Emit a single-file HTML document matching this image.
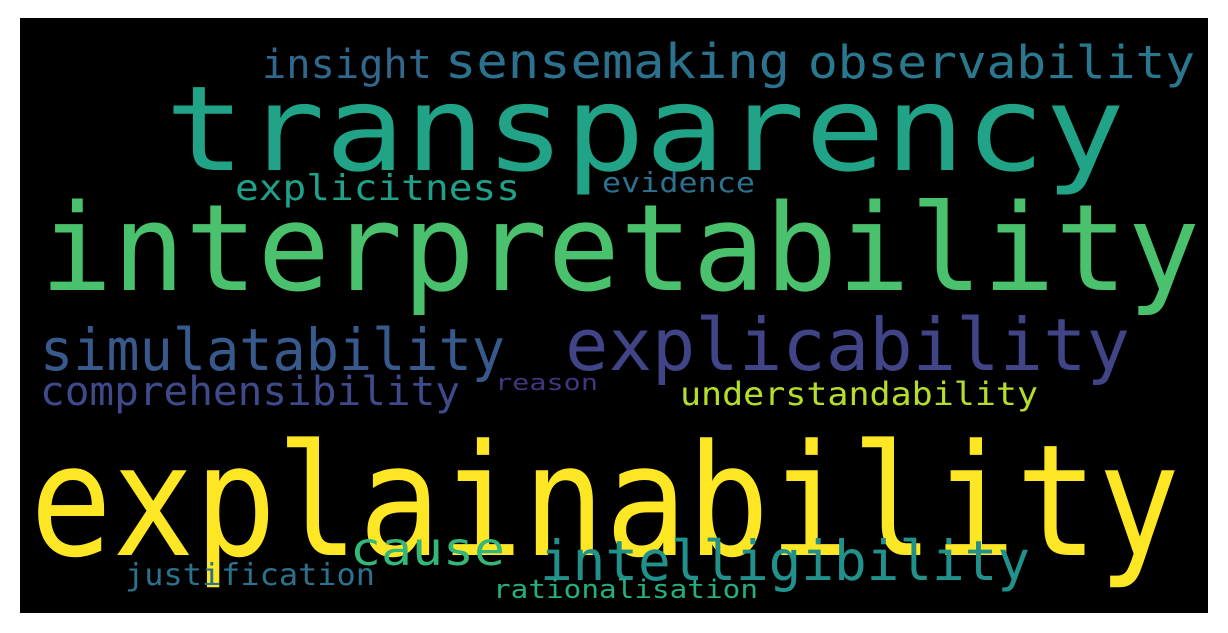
<!DOCTYPE html>
<html><head><meta charset="utf-8"><style>
html,body{margin:0;padding:0;background:#fff;width:1228px;height:633px;overflow:hidden}
svg{position:absolute;left:0;top:0}
text{font-family:"DejaVu Sans Mono","Liberation Mono",monospace}
</style></head><body>
<svg width="1228" height="633">
<rect x="20" y="18" width="1188" height="595" fill="#000"/>
<g id="words"></g>
</svg>
<script>
const words=["transparency","interpretability","explainability","explicability","simulatability","sensemaking","observability","insight","explicitness","evidence","comprehensibility","reason","understandability","cause","intelligibility","justification","rationalisation"];
const sizes=[118,120,155,72,58,48,45,40,36,28,40,22,32,46,55,30,26];
const colors=["#20a386","#4ac16d","#fde725","#414487","#38598c","#2c728e","#2a788e","#31688e","#1fa088","#2c728e","#3e4a89","#46337f","#b5de2b","#35b779","#21918c","#2c728e","#26ad81"];
const xs=[165,40,30,565,40,445,808,262,235,602,40,495,680,350,540,125,493];
const xe=[1125,1200,1180,1130,505,790,1195,432,520,755,460,598,1038,505,1030,375,758];
const ys=[170,290,555,370,370,78,78,78,200,192,405,390,405,565,580,585,598];
const g=document.getElementById('words');
words.forEach((w,i)=>{
 const t=document.createElementNS('http://www.w3.org/2000/svg','text');
 t.setAttribute('x',xs[i]);t.setAttribute('y',ys[i]);
 t.setAttribute('font-size',sizes[i]);t.setAttribute('fill',colors[i]);
 t.setAttribute('textLength',xe[i]-xs[i]);t.setAttribute('lengthAdjust','spacingAndGlyphs');
 t.textContent=w;
 
 
 g.appendChild(t);
});
</script>
</body></html>
